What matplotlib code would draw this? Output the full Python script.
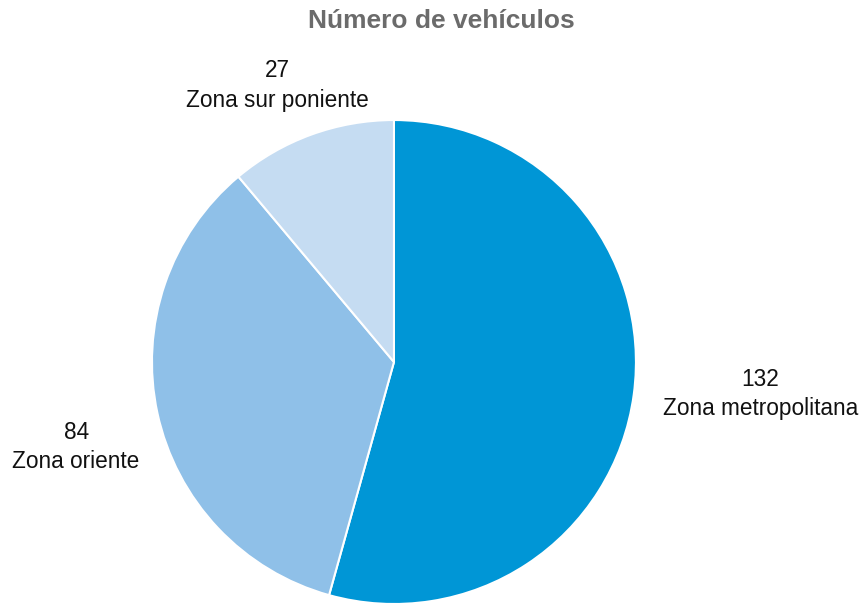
import numpy as np
import matplotlib
matplotlib.use("Agg")
import matplotlib.pyplot as plt

plt.rcParams['font.family'] = ['Liberation Sans', 'DejaVu Sans']

zonas = ["Zona metropolitana", "Zona oriente", "Zona sur poniente"]
vehiculos = [132, 84, 27]
colores = ["#0096D6", "#8FC0E8", "#C5DCF2"]
# distancia de cada etiqueta respecto al radio
dist_etiquetas = [1.52, 1.36, 1.24]
giro_etiquetas = 2.8  # grados

fig = plt.figure(figsize=(8.63, 6.03), dpi=100)
ax = fig.add_axes([0.1761, -0.0017, 0.5608, 0.8027])

wedges, _ = ax.pie(vehiculos, colors=colores, startangle=90, counterclock=False,
                   wedgeprops=dict(edgecolor="white", linewidth=1.5))
ax.set_xlim(-1, 1)
ax.set_ylim(-1, 1)
ax.set_aspect("equal")

for w, nombre, val, d in zip(wedges, zonas, vehiculos, dist_etiquetas):
    ang = np.deg2rad((w.theta1 + w.theta2) / 2 + giro_etiquetas)
    ax.text(d * np.cos(ang), d * np.sin(ang), f"{val}\n{nombre}",
            ha="center", va="center", fontsize=16.3, color="#111111",
            linespacing=1.35, clip_on=False)

fig.text(0.511, 0.965, "Número de vehículos", ha="center", va="center",
         fontsize=19, fontweight="bold", color="#6b6b6b")

fig.savefig("out.png", dpi=100)
